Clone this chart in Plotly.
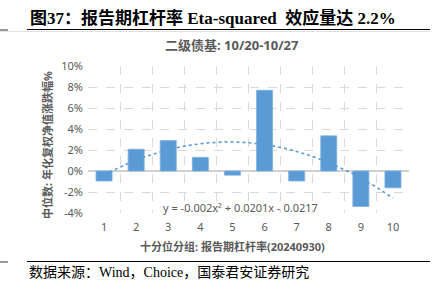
import numpy as np
import plotly.graph_objects as go

categories = [1, 2, 3, 4, 5, 6, 7, 8, 9, 10]
values = [-0.95, 2.07, 2.9, 1.3, -0.4, 7.69, -0.95, 3.35, -3.38, -1.6]  # %
y_ticks = [-4, -2, 0, 2, 4, 6, 8, 10]
y_tick_labels = [f"{v}%" for v in y_ticks]

# quadratic trendline fitted to the bars (as in the source chart)
coef = np.polyfit(categories, values, 2)
xs = np.linspace(1, 10, 200)
ys = np.polyval(coef, xs)

BLUE = "#5B9BD5"
GREY = "#595959"
SANS = "Noto Sans, Noto Sans CJK SC"
SERIF = "Liberation Serif, Noto Sans CJK SC"

fig = go.Figure()
fig.add_trace(go.Bar(x=categories, y=values, width=0.5,
                     marker=dict(color=BLUE, line=dict(color="#7FB0E0", width=0.8)),
                     hoverinfo="skip"))
fig.add_trace(go.Scatter(x=xs, y=ys, mode="lines",
                         line=dict(color=BLUE, width=1.6, dash="dot"),
                         hoverinfo="skip"))

fig.update_layout(
    width=437, height=292,
    margin=dict(l=88, r=28, t=66, b=79),
    plot_bgcolor="white", paper_bgcolor="white",
    showlegend=False, bargap=0.5,
    font=dict(family=SANS, color=GREY, size=11),
    xaxis=dict(range=[0.5, 10.5], tickvals=categories, ticktext=[str(c) for c in categories],
               showgrid=False, zeroline=False, showline=False, ticks="",
               tickfont=dict(size=11, color=GREY),
               minor=dict(tickvals=[c - 0.5 for c in categories] + [10.5], showgrid=True,
                          gridcolor="#D9D9D9", griddash="dash", gridwidth=1, ticks=""),
               ticklabelstandoff=6),
    yaxis=dict(range=[-4, 10], tickvals=y_ticks, ticktext=y_tick_labels,
               showgrid=True, gridcolor="#D9D9D9", griddash="dash", gridwidth=1,
               zeroline=True, zerolinecolor="#D0D0D0", zerolinewidth=1.5,
               showline=False, ticks="", tickfont=dict(size=11, color=GREY),
               ticklabelstandoff=4),
)

ann = [
    dict(text="<b>图37：报告期杠杆率 Eta-squared  效应量达 2.2%</b>", x=28, y=18,
         xanchor="left", yanchor="middle", font=dict(family=SERIF, size=17, color="#000000")),
    dict(text="<b>二级债基: 10/20-10/27</b>", x=231, y=45, xanchor="center", yanchor="middle",
         font=dict(family=SANS, size=13, color=GREY)),
    dict(text="<b>中位数: 年化复权净值涨跌幅%</b>", x=47, y=145, xanchor="center", yanchor="middle",
         textangle=-90, font=dict(family=SANS, size=11, color=GREY)),
    dict(text="y = -0.002x² + 0.0201x - 0.0217", x=240, y=207, xanchor="center",
         yanchor="middle", font=dict(family=SANS, size=11, color=GREY)),
    dict(text="<b>十分位分组: 报告期杠杆率(20240930)</b>", x=232, y=246, xanchor="center",
         yanchor="middle", font=dict(family=SANS, size=11, color=GREY)),
    dict(text="数据来源：Wind，Choice，国泰君安证券研究", x=27, y=272, xanchor="left",
         yanchor="middle", font=dict(family=SERIF, size=14, color="#000000")),
]
for a in ann:
    a.update(xref="paper", yref="paper", showarrow=False)
    a["x"] = (a["x"] - 88) / (437 - 88 - 28)
    a["y"] = (292 - 79 - a["y"]) / (292 - 66 - 79)
fig.update_layout(annotations=ann)

def px_x(v):
    return (v - 88) / (437 - 88 - 28)

def px_y(v):
    return (292 - 79 - v) / (292 - 66 - 79)

shapes = [
    dict(type="line", x0=px_x(27), x1=px_x(430), y0=px_y(29.5), y1=px_y(29.5),
         line=dict(color="#000000", width=1)),
    dict(type="line", x0=px_x(0), x1=px_x(8), y0=px_y(30), y1=px_y(30),
         line=dict(color="#333333", width=1)),
    dict(type="line", x0=px_x(0), x1=px_x(430), y0=px_y(31.5), y1=px_y(31.5),
         line=dict(color="#E0E0E0", width=1)),
    dict(type="line", x0=px_x(27), x1=px_x(430), y0=px_y(261.5), y1=px_y(261.5),
         line=dict(color="#000000", width=1)),
    dict(type="line", x0=px_x(0), x1=px_x(8), y0=px_y(262), y1=px_y(262),
         line=dict(color="#333333", width=1)),
]
for s in shapes:
    s.update(xref="paper", yref="paper")
fig.update_layout(shapes=shapes)

fig.write_html("out.html")
